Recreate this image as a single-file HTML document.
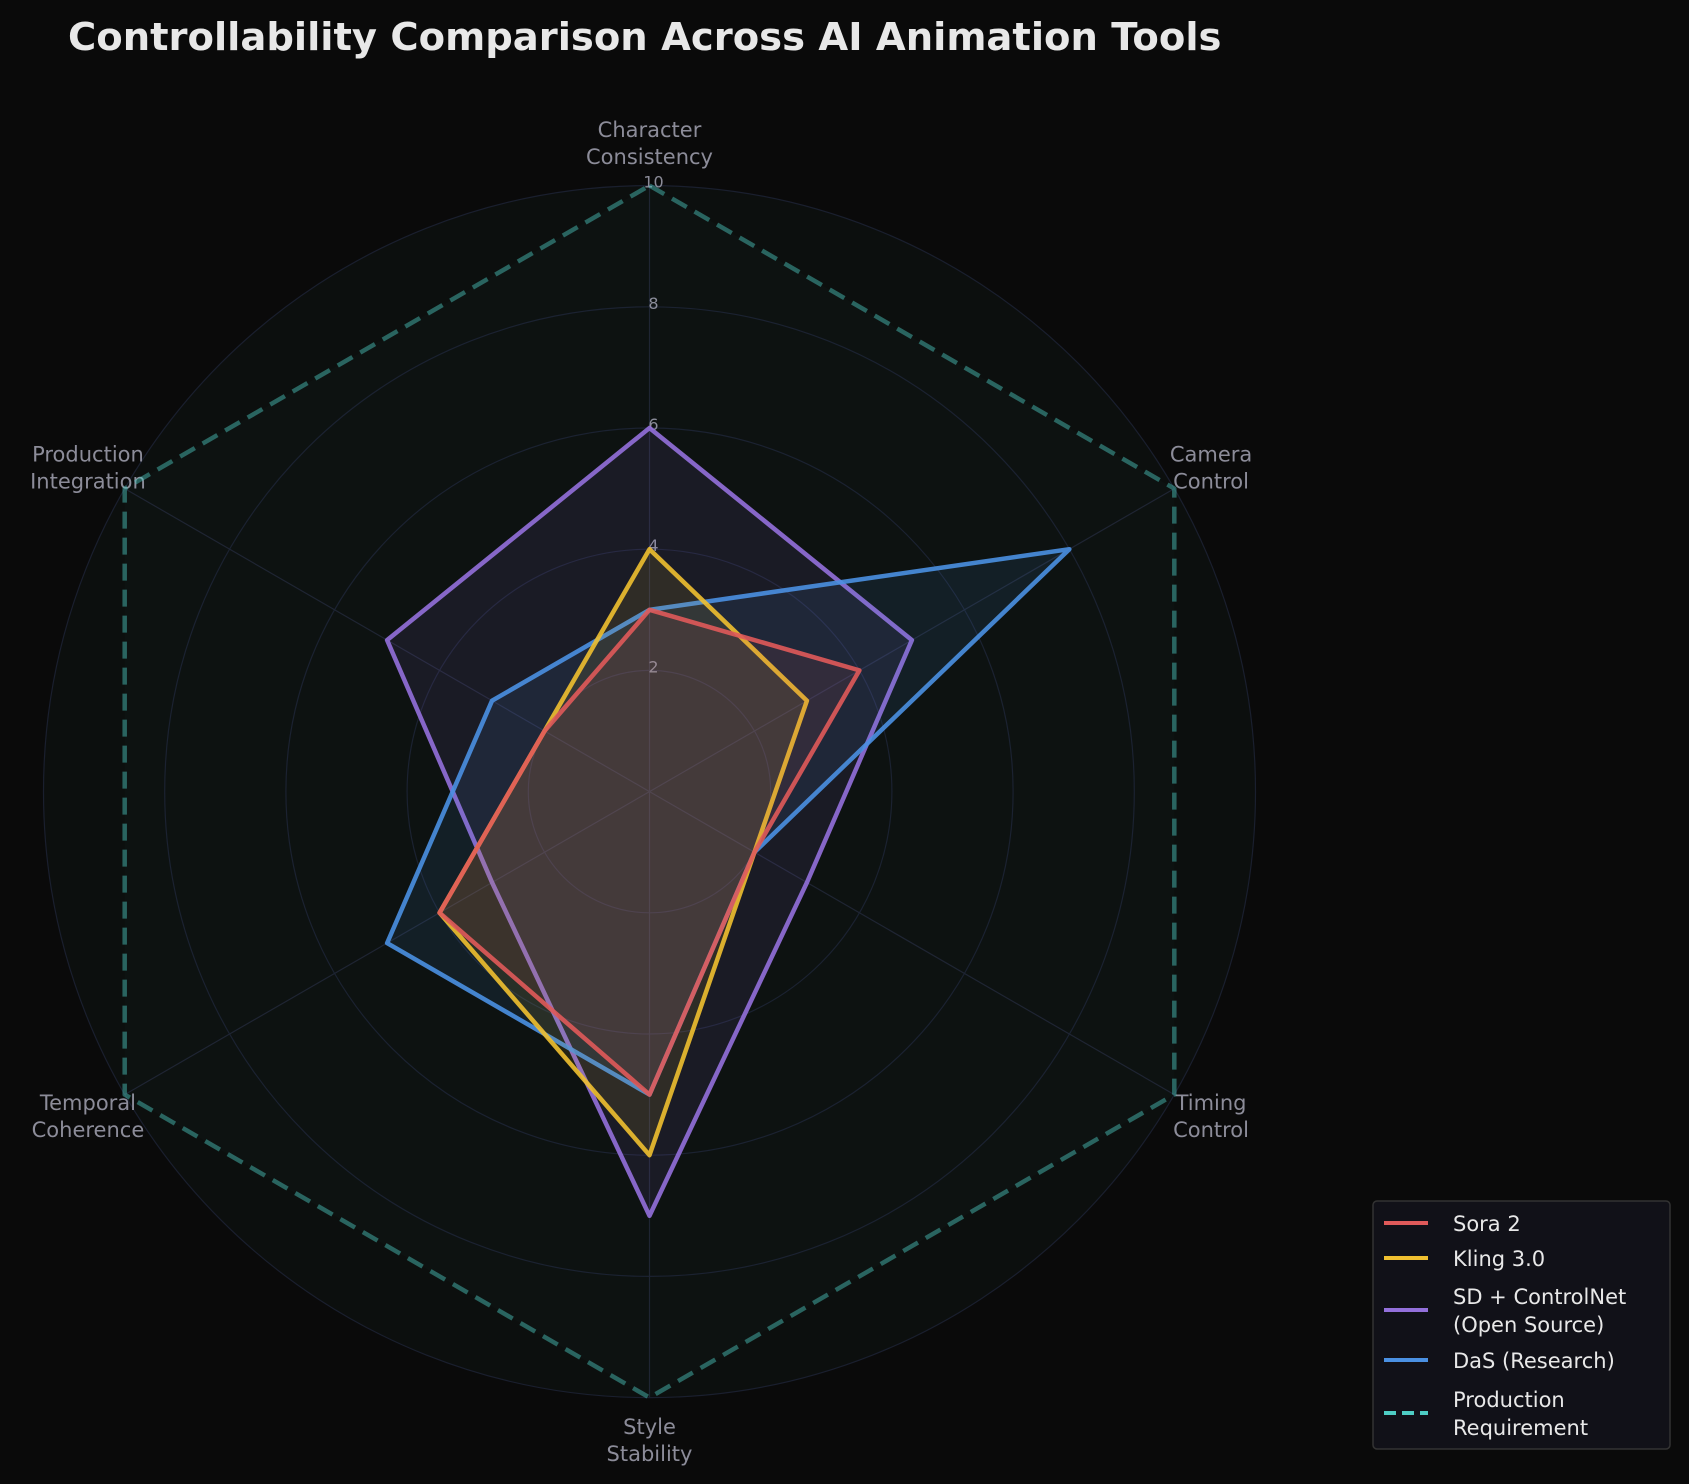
<!DOCTYPE html>
<html><head><meta charset="utf-8"><style>
html,body{margin:0;padding:0;background:#0a0a0a;}
svg{display:block;font-family:"DejaVu Sans","Liberation Sans",sans-serif;}
</style></head><body>
<svg id="chart" width="1689" height="1484" viewBox="0 0 1689 1484" xmlns="http://www.w3.org/2000/svg">
<rect width="1689" height="1484" fill="#0a0a0a"/>
<text x="68" y="50" fill="#e8e8e8" font-size="38.5" font-weight="bold" font-family="DejaVu Sans, sans-serif">Controllability Comparison Across AI Animation Tools</text>
<g id="plot"></g>
<g id="legend"></g>
</svg>
<script>
const categories = ["Character\nConsistency","Camera\nControl","Timing\nControl","Style\nStability","Temporal\nCoherence","Production\nIntegration"];
const seriesNames = ["Sora 2","Kling 3.0","SD + ControlNet\n(Open Source)","DaS (Research)","Production\nRequirement"];
const sora = [3,4,2,5,4,2];
const kling = [4,3,2,6,4,2];
const sdcn = [6,5,3,7,3,5];
const das = [3,8,2,5,5,3];
const requirement = [10,10,10,10,10,10];
const ticks = [2,4,6,8,10];
const maxVal = 10;

const NS="http://www.w3.org/2000/svg";
const cx=649.5, cy=791.6, R=606;
const plot=document.getElementById('plot');
function mk(tag,attrs,parent){const e=document.createElementNS(NS,tag);for(const k in attrs)e.setAttribute(k,attrs[k]);(parent||plot).appendChild(e);return e;}
function rScale(v){return v/maxVal*R;}
function ang(i){return -Math.PI/2 + i*2*Math.PI/categories.length;}
function pt(i,v){const a=ang(i),r=rScale(v);return [cx+r*Math.cos(a),cy+r*Math.sin(a)];}

let bg=mk('circle',{cx:cx,cy:cy,r:R,fill:'#0c0f0e'});


ticks.forEach(t=>{
  let c=mk('circle',{cx:cx,cy:cy,r:rScale(t),fill:'none',stroke:'#1a1f2e','stroke-width':1.2});
  
  
});
categories.forEach((c,i)=>{
  const p=pt(i,maxVal);
  let l=mk('line',{x1:cx,y1:cy,x2:p[0],y2:p[1],stroke:'#1e2230','stroke-width':1.2});
  
  
  const lp=pt(i,maxVal*1.07);
  const lines=c.split('\n');
  let tx=mk('text',{x:lp[0],y:lp[1]-(lines.length-1)*13+7,fill:'#8c8c99','font-size':21,'text-anchor':'middle'});
  
  
  lines.forEach((s,j)=>{const ts=mk('tspan',{x:lp[0],dy:j?27:0},tx);ts.textContent=s;});
});
ticks.forEach(t=>{
  let tx=mk('text',{x:cx+4,y:cy-rScale(t)+2,fill:'#8c8c99','font-size':16,'text-anchor':'middle'});
  
  
  tx.textContent=t;
});

function poly(vals,color,fillOp,name,dash){
  const pts=vals.map((v,i)=>pt(i,v).join(',')).join(' ');
  let g=mk('polygon',{points:pts,fill:color,'fill-opacity':fillOp,stroke:'none'});
  
  
  let l=mk('polygon',{points:pts,fill:'none',stroke:color,'stroke-width':dash?4.5:4.5,'stroke-linejoin':'round','stroke-dasharray':dash||'none','stroke-opacity':dash?0.45:0.9});
  
  
}
poly(requirement,'#4ecdc4',0.02,'production-requirement','17,9');
poly(sdcn,'#9370db',0.1,'sd-controlnet');
poly(das,'#4a90e2',0.1,'das-research');
poly(kling,'#f0c030',0.1,'kling-3');
poly(sora,'#e05a5a',0.1,'sora-2');

const lg=document.getElementById('legend');
let box=mk('rect',{x:1373,y:1201,width:297,height:248,rx:4,fill:'#111118',stroke:'#333','stroke-width':1.5},lg);


const colors=['#e05a5a','#f0c030','#9370db','#4a90e2','#4ecdc4'];
const ys=[1223,1258,1310,1360,1413];
seriesNames.forEach((n,i)=>{
  const y=ys[i];
  let ln=mk('line',{x1:1384,y1:y,x2:1428,y2:y,stroke:colors[i],'stroke-width':4,'stroke-dasharray':i==4?'12,6':'none'},lg);
  
  
  const lines=n.split('\n');
  let tx=mk('text',{x:1453,y:y+8-(lines.length-1)*14,fill:'#e8e8e8','font-size':21},lg);
  
  
  lines.forEach((s,j)=>{const ts=mk('tspan',{x:1453,dy:j?28:0},tx);ts.textContent=s;});
});
</script>
</body></html>
